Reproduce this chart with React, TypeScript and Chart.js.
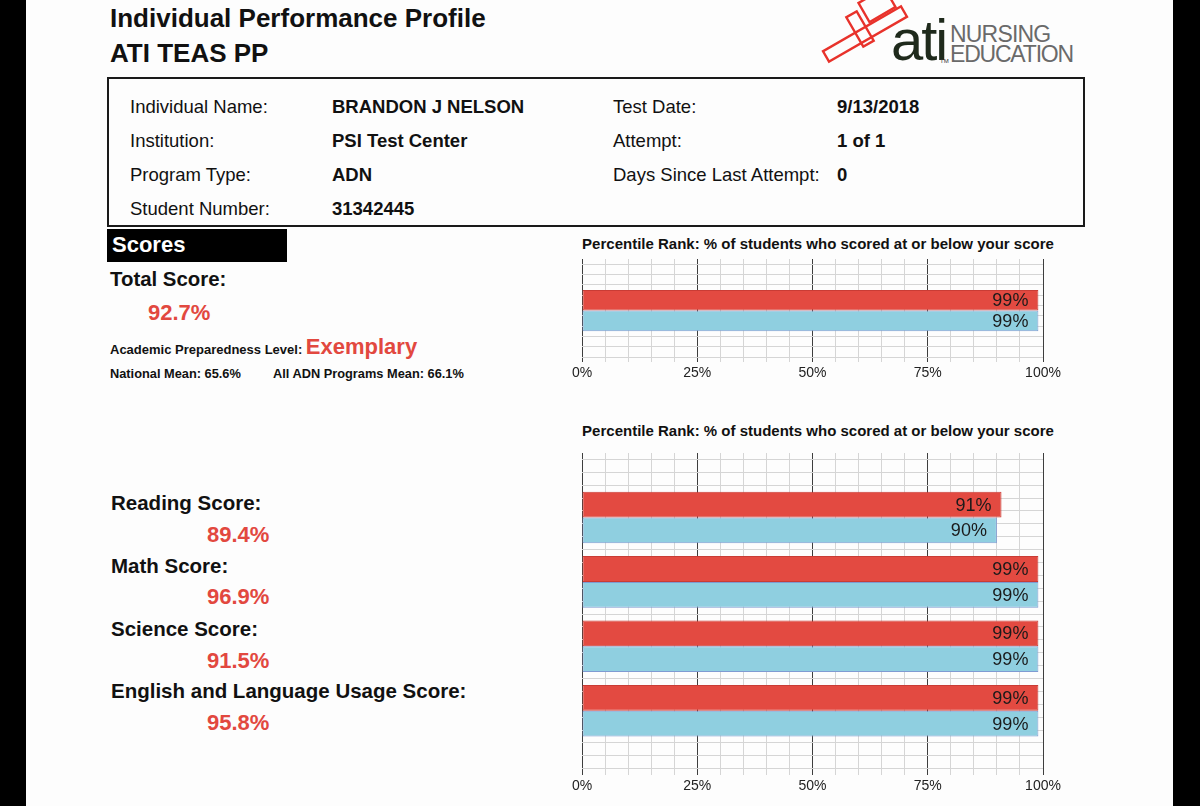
import React, { useEffect, useRef } from 'react';
import { Chart, registerables } from 'chart.js';

Chart.register(...registerables);

const FONT = '"Liberation Sans", Arial, Helvetica, sans-serif';
const RED = '#E2483F';

// ---- data ----
const totalCategories = ['Total Score'];
const totalIndividual = [99];
const totalProgram = [99];

const sectionCategories = ['Reading', 'Math', 'Science', 'English and Language Usage'];
const sectionIndividual = [91, 99, 99, 99];
const sectionProgram = [90, 99, 99, 99];

const xTickValues = [0, 25, 50, 75, 100];
const xTickLabels = ['0%', '25%', '50%', '75%', '100%'];

const sectionLabels = ['Reading Score:', 'Math Score:', 'Science Score:', 'English and Language Usage Score:'];
const sectionScores = ['89.4%', '96.9%', '91.5%', '95.8%'];

const infoLeft = [
  ['Individual Name:', 'BRANDON J NELSON'],
  ['Institution:', 'PSI Test Center'],
  ['Program Type:', 'ADN'],
  ['Student Number:', '31342445'],
];
const infoRight = [
  ['Test Date:', '9/13/2018'],
  ['Attempt:', '1 of 1'],
  ['Days Since Last Attempt:', '0'],
];

const chartTitle = 'Percentile Rank: % of students who scored at or below your score';

const barLabelPlugin = {
  id: 'barLabels',
  afterDatasetsDraw(chart: any) {
    const ctx = chart.ctx;
    ctx.save();
    ctx.font = `18px ${FONT}`;
    ctx.fillStyle = '#1a1a1a';
    ctx.textAlign = 'right';
    ctx.textBaseline = 'middle';
    chart.data.datasets.forEach((ds: any, di: number) => {
      const meta = chart.getDatasetMeta(di);
      meta.data.forEach((el: any, i: number) => {
        const v = ds.data[i].x;
        ctx.fillText(v + '%', el.x - 10, el.y + 1);
      });
    });
    ctx.restore();
  },
};

type PCProps = {
  categories: string[];
  individual: number[];
  program: number[];
  left: number;
  top: number;
  width: number;
  height: number;
};

function PercentileChart({ categories, individual, program, left, top, width, height }: PCProps) {
  const ref = useRef<HTMLCanvasElement | null>(null);
  useEffect(() => {
    if (!ref.current) return;
    const rows = (categories.length + 1) * 5;
    const chart = new Chart(ref.current, {
      type: 'bar',
      data: {
        datasets: [
          {
            label: 'Individual',
            data: categories.map((c, i) => ({ x: individual[i], y: i + 1 })),
            backgroundColor: '#E34A41',
            borderColor: '#C93C35',
            borderWidth: 1,
            borderSkipped: false,
            categoryPercentage: 0.8,
            barPercentage: 1,
            xAxisID: 'x',
            yAxisID: 'y',
          },
          {
            label: 'Program',
            data: categories.map((c, i) => ({ x: program[i], y: i + 1 })),
            backgroundColor: '#8FCFE0',
            borderColor: '#7F9BD2',
            borderWidth: 1,
            borderSkipped: false,
            categoryPercentage: 0.8,
            barPercentage: 1,
            xAxisID: 'x',
            yAxisID: 'y',
          },
        ],
      } as any,
      options: {
        indexAxis: 'y',
        responsive: false,
        animation: false,
        layout: { padding: { left: 30, right: 30, top: 5, bottom: 5 } },
        plugins: {
          legend: { display: false },
          tooltip: { enabled: false },
          title: { display: false },
        },
        scales: {
          x: {
            type: 'linear',
            position: 'bottom',
            min: 0,
            max: 100,
            ticks: {
              stepSize: 5,
              autoSkip: false,
              maxRotation: 0,
              minRotation: 0,
              padding: 3,
              color: '#222',
              font: { family: FONT, size: 14 },
              callback: (v: any) => {
                const idx = xTickValues.indexOf(Number(v));
                return idx >= 0 ? xTickLabels[idx] : '';
              },
            },
            grid: {
              drawTicks: false,
              color: (c: any) =>
                c.tick && xTickValues.includes(c.tick.value) ? '#3e3e3e' : '#d5d5d5',
              lineWidth: 1,
            },
            border: { display: false },
          },
          y: {
            type: 'linear',
            axis: 'y',
            display: false,
            offset: false,
            min: 0,
            max: categories.length + 1,
            reverse: true,
            ticks: { stepSize: 1 },
            grid: { offset: false },
          },
          yg: {
            type: 'linear',
            axis: 'y',
            position: 'left',
            offset: false,
            min: 0,
            max: rows,
            ticks: { display: false, stepSize: 1, maxTicksLimit: 500, font: { size: 4 } },
            grid: { drawTicks: false, color: '#d5d5d5', lineWidth: 1 },
            border: { display: false },
          },
        },
      } as any,
      plugins: [barLabelPlugin],
    });
    return () => chart.destroy();
  }, [categories, individual, program]);
  return (
    <canvas
      ref={ref}
      width={width}
      height={height}
      style={{ position: 'absolute', left, top, width, height }}
    />
  );
}

type TProps = {
  x: number;
  cy: number;
  size: number;
  bold?: boolean;
  color?: string;
  children: React.ReactNode;
  style?: React.CSSProperties;
};

function T({ x, cy, size, bold, color, children, style }: TProps) {
  return (
    <div
      style={{
        position: 'absolute',
        left: x,
        top: cy - size / 2,
        fontSize: size,
        lineHeight: 1,
        fontWeight: bold ? 700 : 400,
        color: color || '#111',
        whiteSpace: 'nowrap',
        fontFamily: FONT,
        ...style,
      }}
    >
      {children}
    </div>
  );
}

function Logo() {
  return (
    <>
      <svg
        width={120}
        height={70}
        style={{ position: 'absolute', left: 810, top: 0 }}
        viewBox="0 0 120 70"
      >
        <g fill="none" stroke="#E8322B" strokeWidth={2.4}>
          <rect x={10} y={28} width={90} height={12} transform="rotate(-30 55 34)" />
          <rect x={52} y={-6} width={30} height={22} transform="rotate(-30 67 5)" />
          <rect x={44} y={12} width={12} height={34} transform="rotate(-30 50 29)" />
        </g>
      </svg>
      <div
        style={{
          position: 'absolute',
          left: 891,
          top: 11,
          fontSize: 58,
          lineHeight: 1,
          fontFamily: FONT,
          color: '#1f2a1c',
          letterSpacing: -2,
          whiteSpace: 'nowrap',
        }}
      >
        ati
      </div>
      <div style={{ position: 'absolute', left: 940, top: 58, fontSize: 6, fontFamily: FONT, color: '#333' }}>
        TM
      </div>
      <T x={950} cy={34} size={23} color="#6a6a6a" style={{ letterSpacing: -0.8 }}>
        NURSING
      </T>
      <T x={950} cy={54} size={23} color="#6a6a6a" style={{ letterSpacing: -1.2 }}>
        EDUCATION
      </T>
    </>
  );
}

export default function App() {
  const rowY = [106, 140, 174, 208];
  const sectionY = [503, 566, 629, 691];
  const scoreY = [535, 597, 661, 723];
  const titleStyle: React.CSSProperties = {
    position: 'absolute',
    left: 560,
    width: 516,
    textAlign: 'center',
    fontSize: 15,
    lineHeight: 1,
    fontWeight: 700,
    color: '#111',
    whiteSpace: 'nowrap',
  };
  return (
    <div
      style={{
        position: 'fixed',
        left: 0,
        top: 0,
        width: 1200,
        height: 806,
        background: '#fdfdfd',
        overflow: 'hidden',
        fontFamily: FONT,
      }}
    >
      <div style={{ position: 'absolute', left: 0, top: 0, width: 26, height: 806, background: '#000' }} />
      <div style={{ position: 'absolute', left: 1173, top: 0, width: 27, height: 806, background: '#000' }} />

      <T x={110} cy={18} size={26} bold>
        Individual Performance Profile
      </T>
      <T x={110} cy={53} size={26} bold>
        ATI TEAS PP
      </T>
      <Logo />

      <div
        style={{
          position: 'absolute',
          left: 107,
          top: 77,
          width: 978,
          height: 150,
          border: '2px solid #1a1a1a',
          boxSizing: 'border-box',
        }}
      />
      {infoLeft.map(([k, v], i) => (
        <React.Fragment key={k}>
          <T x={130} cy={rowY[i] + 1} size={18.5}>
            {k}
          </T>
          <T x={332} cy={rowY[i] + 1} size={18.5} bold>
            {v}
          </T>
        </React.Fragment>
      ))}
      {infoRight.map(([k, v], i) => (
        <React.Fragment key={k}>
          <T x={613} cy={rowY[i] + 1} size={18.5}>
            {k}
          </T>
          <T x={837} cy={rowY[i] + 1} size={18.5} bold>
            {v}
          </T>
        </React.Fragment>
      ))}

      <div style={{ position: 'absolute', left: 107, top: 229, width: 180, height: 33, background: '#000' }} />
      <T x={112} cy={245} size={22} bold color="#fff">
        Scores
      </T>
      <T x={110} cy={279} size={20.4} bold>
        Total Score:
      </T>
      <T x={148} cy={313} size={22} bold color={RED}>
        92.7%
      </T>
      <div
        style={{
          position: 'absolute',
          left: 110,
          top: 336,
          whiteSpace: 'nowrap',
          fontFamily: FONT,
          fontWeight: 700,
          lineHeight: 1,
          color: '#111',
        }}
      >
        <span style={{ fontSize: 13 }}>Academic Preparedness Level: </span>
        <span style={{ fontSize: 22, color: RED }}>Exemplary</span>
      </div>
      <T x={110} cy={374} size={12.8} bold>
        National Mean: 65.6%
      </T>
      <T x={273} cy={374} size={12.8} bold>
        All ADN Programs Mean: 66.1%
      </T>

      {sectionLabels.map((s, i) => (
        <React.Fragment key={s}>
          <T x={111} cy={sectionY[i]} size={20.5} bold>
            {s}
          </T>
          <T x={207} cy={scoreY[i]} size={22} bold color={RED}>
            {sectionScores[i]}
          </T>
        </React.Fragment>
      ))}

      <div style={{ ...titleStyle, top: 236 }}>{chartTitle}</div>
      <div style={{ ...titleStyle, top: 423 }}>{chartTitle}</div>

      <PercentileChart
        categories={totalCategories}
        individual={totalIndividual}
        program={totalProgram}
        left={552}
        top={254}
        width={521}
        height={136}
      />
      <PercentileChart
        categories={sectionCategories}
        individual={sectionIndividual}
        program={sectionProgram}
        left={552}
        top={448}
        width={521}
        height={355}
      />
    </div>
  );
}
